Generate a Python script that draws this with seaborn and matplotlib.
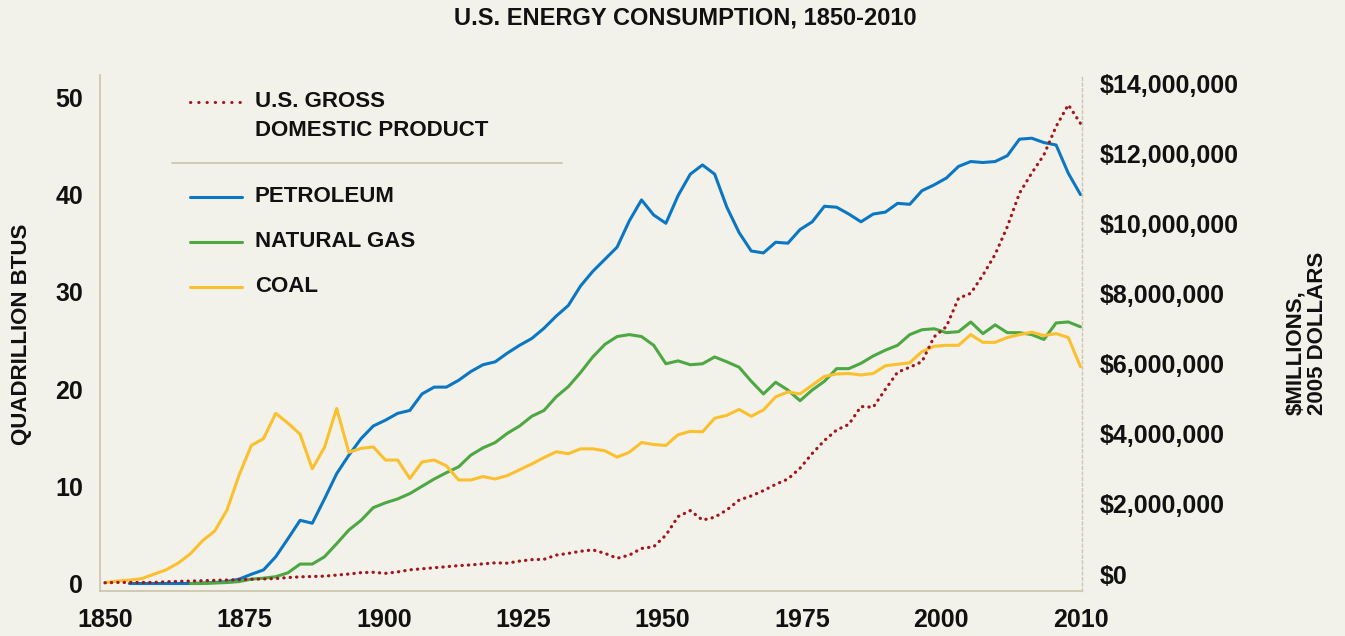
import numpy as np
import pandas as pd
import seaborn as sns
import matplotlib.pyplot as plt
from matplotlib.lines import Line2D

# one reading every 2 years, 1850-2010
years = np.arange(1850, 2011, 2)

coal = [0.1, 0.25, 0.35, 0.5, 0.95, 1.4, 2.1, 3.05, 4.4, 5.4,
        7.55, 11.15, 14.2, 14.9, 17.5, 16.5, 15.35, 11.8, 14.0, 18.0,
        13.5, 13.9, 14.05, 12.7, 12.7, 10.8, 12.5, 12.7, 12.1, 10.65,
        10.65, 11.0, 10.75, 11.1, 11.7, 12.3, 12.95, 13.55, 13.35, 13.85,
        13.85, 13.65, 13.0, 13.5, 14.5, 14.3, 14.2, 15.3, 15.65, 15.6,
        17.0, 17.3, 17.9, 17.2, 17.85, 19.2, 19.7, 19.5, 20.4, 21.3,
        21.55, 21.6, 21.45, 21.6, 22.4, 22.55, 22.7, 23.85, 24.4, 24.5,
        24.5, 25.6, 24.8, 24.8, 25.3, 25.6, 25.85, 25.5, 25.7, 25.3,
        22.3]

petroleum = [np.nan, np.nan, 0.0, 0.0, 0.0, 0.0, 0.0, 0.0, 0.05, 0.1,
             0.2, 0.45, 0.95, 1.4, 2.75, 4.6, 6.5, 6.2, 8.7, 11.3,
             13.2, 14.9, 16.2, 16.8, 17.5, 17.8, 19.5, 20.2, 20.2, 20.9,
             21.8, 22.5, 22.8, 23.7, 24.5, 25.2, 26.25, 27.5, 28.6, 30.6,
             32.1, 33.35, 34.6, 37.3, 39.45, 37.9, 37.05, 39.9, 42.1, 43.05,
             42.1, 38.7, 36.1, 34.2, 34.0, 35.1, 35.0, 36.4, 37.2, 38.8,
             38.7, 38.0, 37.2, 38.0, 38.2, 39.1, 39.0, 40.4, 41.0, 41.7,
             42.9, 43.4, 43.3, 43.4, 44.0, 45.7, 45.8, 45.35, 45.1, 42.2,
             40.0]

natural_gas = [np.nan, np.nan, np.nan, np.nan, np.nan, np.nan, np.nan, 0.0, 0.0, 0.05,
               0.1, 0.2, 0.45, 0.55, 0.7, 1.1, 2.0, 2.0, 2.75, 4.1,
               5.5, 6.5, 7.8, 8.3, 8.7, 9.25, 10.0, 10.75, 11.4, 12.0,
               13.2, 13.95, 14.5, 15.45, 16.2, 17.2, 17.8, 19.2, 20.25, 21.7,
               23.3, 24.6, 25.4, 25.6, 25.4, 24.5, 22.6, 22.9, 22.5, 22.6,
               23.3, 22.8, 22.25, 20.8, 19.5, 20.7, 19.9, 18.8, 19.9, 20.8,
               22.1, 22.1, 22.65, 23.4, 24.0, 24.5, 25.6, 26.1, 26.2, 25.8,
               25.9, 26.9, 25.7, 26.6, 25.8, 25.8, 25.6, 25.1, 26.8, 26.9,
               26.4]

# GDP in millions of $millions (2005 dollars)
gdp = [0.02, 0.03, 0.03, 0.03, 0.03, 0.05, 0.06, 0.07, 0.08, 0.09,
       0.10, 0.11, 0.12, 0.13, 0.14, 0.17, 0.19, 0.20, 0.21, 0.24,
       0.27, 0.31, 0.32, 0.29, 0.33, 0.39, 0.42, 0.45, 0.48, 0.51,
       0.53, 0.56, 0.59, 0.58, 0.64, 0.68, 0.69, 0.81, 0.86, 0.92,
       0.96, 0.86, 0.72, 0.81, 1.0, 1.05, 1.38, 1.91, 2.08, 1.81,
       1.89, 2.10, 2.38, 2.5, 2.65, 2.83, 2.98, 3.29, 3.71, 4.08,
       4.38, 4.54, 5.05, 5.03, 5.54, 6.03, 6.17, 6.33, 7.04, 7.33,
       8.14, 8.28, 8.80, 9.39, 10.18, 11.14, 11.71, 12.23, 13.04, 13.66,
       13.13]

x_labels = ["1850", "1875", "1900", "1925", "1950", "1975", "2000", "2010"]

df = pd.DataFrame({"year": years, "coal": coal, "petroleum": petroleum,
                   "natural_gas": natural_gas, "gdp": gdp})

bg = "#f2f1ea"
tan = "#cdc7ad"
ink = "#111111"
blue = "#0b77c2"
green = "#4da843"
yellow = "#fbc02d"
red = "#a3161c"

sns.set_theme(style="white")
plt.rcParams["font.family"] = ["Liberation Sans", "DejaVu Sans"]
plt.rcParams["font.weight"] = "bold"
plt.rcParams["text.color"] = ink
plt.rcParams["xtick.color"] = ink
plt.rcParams["ytick.color"] = ink

W, H = 1345, 636
fig = plt.figure(figsize=(W / 100, H / 100), dpi=100, facecolor=bg)
ax = fig.add_axes([100 / W, 1 - 591 / H, 982 / W, 516 / H])
ax.set_facecolor(bg)
ax2 = ax.twinx()

sns.lineplot(data=df, x="year", y="petroleum", ax=ax, color=blue, lw=2.2)
sns.lineplot(data=df, x="year", y="natural_gas", ax=ax, color=green, lw=2.2)
sns.lineplot(data=df, x="year", y="coal", ax=ax, color=yellow, lw=2.2)
sns.lineplot(data=df, x="year", y="gdp", ax=ax2, color=red, lw=2.3,
             linestyle=(0, (0.1, 1.9)), dash_capstyle="round")

ax.set_xlim(1849.18, 2010.25)
ax.set_ylim(-0.77, 52.3)
ax2.set_ylim(-0.214, 14.51)

ax.set_xticks(np.linspace(1850, 2010, len(x_labels)))
ax.set_xticklabels(x_labels)
ax.set_yticks(range(0, 51, 10))
ax2.set_yticks(range(0, 15, 2))
ax2.set_yticklabels([f"${v * 1000000:,.0f}" for v in range(0, 15, 2)])
for t in ax2.yaxis.get_major_ticks():
    t.label2.set_va("baseline")

ax.set_xlabel("")
ax.set_ylabel("")
ax2.set_ylabel("")
ax.tick_params(axis="both", length=0, labelsize=18, labelcolor=ink)
ax.tick_params(axis="y", pad=12)
ax.tick_params(axis="x", pad=12)
ax2.tick_params(axis="y", length=0, labelsize=18, pad=13, labelcolor=ink)

for s in ["top", "right"]:
    ax.spines[s].set_visible(False)
for s in ["left", "bottom"]:
    ax.spines[s].set_color(tan)
    ax.spines[s].set_linewidth(1.3)
for s in ["top", "left", "bottom"]:
    ax2.spines[s].set_visible(False)
ax2.spines["right"].set_color(tan)
ax2.spines["right"].set_linewidth(1.0)
ax2.spines["right"].set_linestyle((0, (2, 2)))

# titles
fig.text(685 / W, 1 - 18 / H, "U.S. ENERGY CONSUMPTION, 1850-2010",
         ha="center", va="center", fontsize=17)
fig.text(22 / W, 1 - 334 / H, "QUADRILLION BTUS", rotation=90,
         ha="center", va="center", fontsize=16)
fig.text(1307 / W, 1 - 333 / H, "$MILLIONS,\n2005 DOLLARS", rotation=90,
         ha="center", va="center", multialignment="left", fontsize=16,
         linespacing=1.05)

# legend
def key(y, color, dash=None):
    ln = Line2D([190 / W, 242 / W], [1 - y / H, 1 - y / H], color=color, lw=2.2,
                transform=fig.transFigure)
    if dash is not None:
        ln.set_linestyle(dash)
        ln.set_dash_capstyle("round")
    fig.add_artist(ln)

key(101.7, red, dash=(0, (0.1, 2.6)))
fig.text(255 / W, 1 - 101.7 / H, "U.S. GROSS", ha="left", va="center", fontsize=16)
fig.text(255 / W, 1 - 130 / H, "DOMESTIC PRODUCT", ha="left", va="center", fontsize=16)
fig.add_artist(Line2D([172 / W, 562 / W], [1 - 162.5 / H, 1 - 162.5 / H],
                      color=tan, lw=1.3, transform=fig.transFigure))
for y, color, name in [(196.7, blue, "PETROLEUM"), (241.7, green, "NATURAL GAS"),
                       (286.7, yellow, "COAL")]:
    key(y, color)
    fig.text(255 / W, 1 - y / H, name, ha="left", va="center", fontsize=16)

fig.savefig("out.png", dpi=100, facecolor=bg)
